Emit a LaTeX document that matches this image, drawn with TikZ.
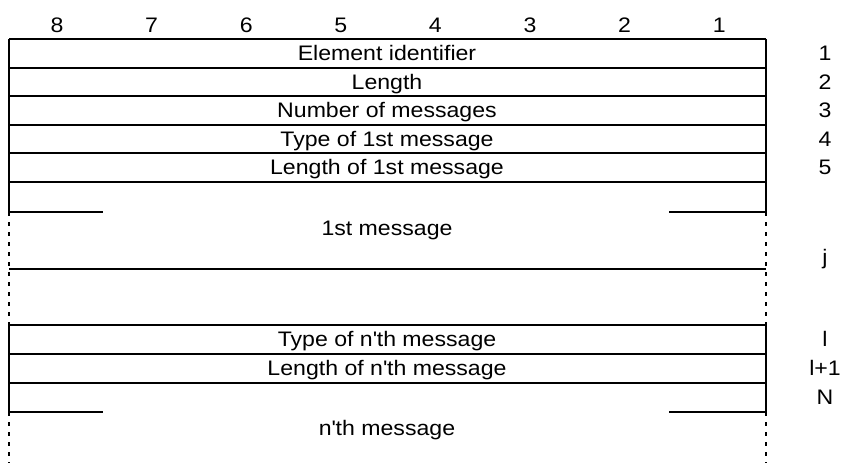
\documentclass[tikz,border=0pt]{standalone}
\usepackage{fontspec}
\setmainfont{Liberation Sans}[FakeStretch=1.1]
\usetikzlibrary{positioning}

\tikzset{
  field/.style={inner sep=0pt, anchor=base, font=\fontsize{21}{21}\selectfont},
  rule/.style={line width=2pt},
  cut/.style={line width=2pt, dash pattern=on 4pt off 6pt},
}

\begin{document}
\begin{tikzpicture}[x=1pt,y=-1pt]
  \useasboundingbox (0,0) rectangle (841,463);
  % bit numbers
  \foreach \n [count=\i from 0] in {8,7,...,1}
    \node[field] (bit\n) at (57+94.6*\i,32) {\n};
  % octet boundaries
  \foreach \y in {39,68,96,125,153,182,269,325,354,383}
    \draw[rule] (9,\y) -- (766,\y);
  \draw[rule] (9,39) -- (9,212); \draw[rule] (766,39) -- (766,212);
  \draw[rule] (9,325) -- (9,412); \draw[rule] (766,325) -- (766,412);
  \draw[rule] (9,212) -- (103,212); \draw[rule] (669,212) -- (766,212);
  \draw[rule] (9,412) -- (103,412); \draw[rule] (669,412) -- (766,412);
  % open ends of the messages
  \draw[cut] (9,212) -- (9,325); \draw[cut] (766,212) -- (766,325);
  \draw[cut] (9,412) -- (9,463); \draw[cut] (766,412) -- (766,463);
  % fields
  \node[field] (eid)   at (387,60)  {Element identifier};
  \node[field] (len)   at (387,89)  {Length};
  \node[field] (nmsg)  at (387,117) {Number of messages};
  \node[field] (type1) at (387,146) {Type of 1st message};
  \node[field] (len1)  at (387,174) {Length of 1st message};
  \node[field] (msg1)  at (387,235) {1st message};
  \node[field] (typen) at (387,346) {Type of n\textquotesingle th message};
  \node[field] (lenn)  at (387,375) {Length of n\textquotesingle th message};
  \node[field] (msgn)  at (387,435) {n\textquotesingle th message};
  % octet numbers
  \foreach \o/\y in {1/60,2/89,3/117,4/146,5/174,j/264,l/346,l+1/375,N/404}
    \node[field] (oct\o) at (825,\y) {\o};
\end{tikzpicture}
\end{document}
